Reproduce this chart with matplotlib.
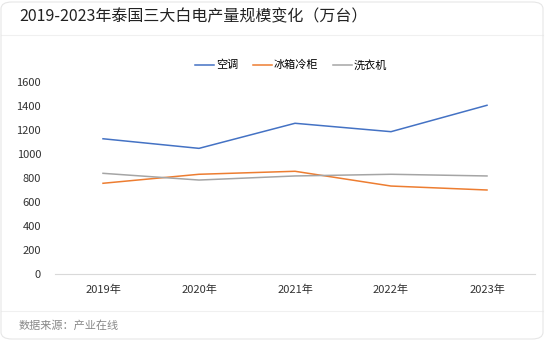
import matplotlib.pyplot as plt
from matplotlib.patches import FancyBboxPatch
from matplotlib.lines import Line2D

plt.rcParams['font.family'] = ['Noto Sans CJK SC', 'DejaVu Sans']

years = ['2019年', '2020年', '2021年', '2022年', '2023年']
aircon = [1127, 1047, 1256, 1186, 1406]
fridge = [756, 831, 856, 733, 700]
washer = [839, 783, 817, 831, 817]

series = [('空调', aircon, '#4472C4'),
          ('冰箱冷柜', fridge, '#ED7D31'),
          ('洗衣机', washer, '#A5A5A5')]

W, H = 545, 340
fig = plt.figure(figsize=(W / 100, H / 100), dpi=100)
fig.patch.set_facecolor('white')

# card border and separators
card = FancyBboxPatch((1 / W, 1 / H), 1 - 3 / W, 1 - 3 / H,
                      boxstyle='round,pad=0,rounding_size=0.02',
                      transform=fig.transFigure, facecolor='none',
                      edgecolor='#e6e6e6', linewidth=0.8, zorder=-1)
fig.patches.append(card)
for yy in (35, 311):
    fig.add_artist(Line2D([1 / W, 1 - 2 / W], [1 - yy / H, 1 - yy / H],
                          transform=fig.transFigure, color='#f0f0f0', lw=0.8,
                          zorder=-1))

fig.text(19 / W, 1 - 17 / H, '2019-2023年泰国三大白电产量规模变化（万台）',
         fontsize=11.5, color='#222222', va='center', ha='left')
fig.text(19 / W, 1 - 326 / H, '数据来源：产业在线',
         fontsize=8, color='#888888', va='center', ha='left')

ax = fig.add_axes([55 / W, 1 - 274 / H, 480 / W, 192 / H])
ax.patch.set_alpha(0)
x = list(range(len(years)))
for name, vals, c in series:
    ax.plot(x, vals, color=c, lw=1.1, label=name)

ax.set_xlim(-0.5, 4.5)
ax.set_ylim(0, 1600)
ax.set_yticks(range(0, 1601, 200))
ax.set_xticks(x)
ax.set_xticklabels(years)
for s in ('top', 'right', 'left'):
    ax.spines[s].set_visible(False)
ax.spines['bottom'].set_color('#d9d9d9')
ax.spines['bottom'].set_linewidth(0.8)
ax.tick_params(axis='both', length=0, labelsize=8, colors='#333333')
ax.tick_params(axis='x', pad=8)
ax.tick_params(axis='y', pad=10)

ax.legend(loc='center', bbox_to_anchor=(291 / W, 1 - 65 / H),
          bbox_transform=fig.transFigure, ncol=3, frameon=False,
          fontsize=8, handlelength=1.7, handletextpad=0.2, columnspacing=1.3)

fig.savefig('out.png', dpi=100)
